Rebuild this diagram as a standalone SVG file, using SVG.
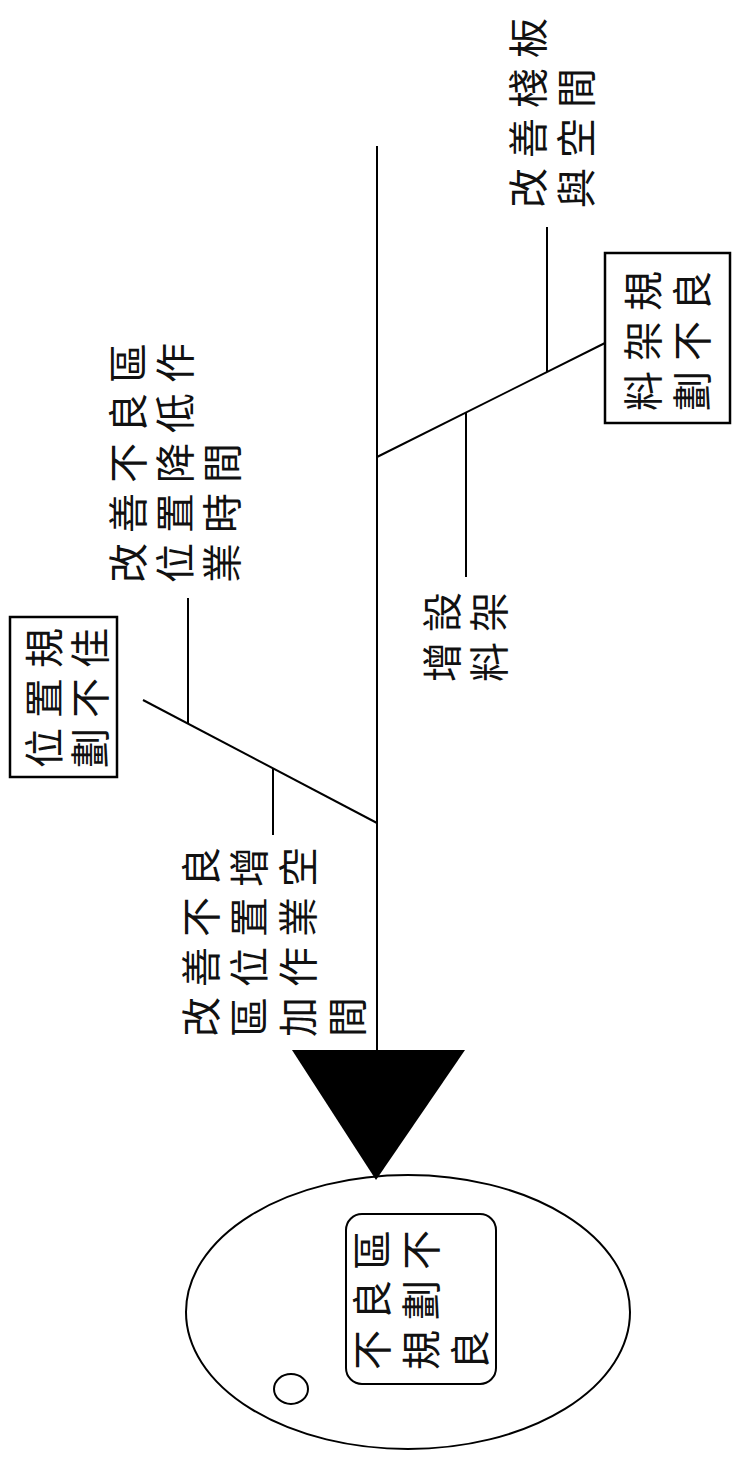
<svg xmlns="http://www.w3.org/2000/svg" width="744" height="1465" viewBox="0 0 744 1465">
<style>
.ln{stroke:#000;stroke-width:2;fill:none}
.bx{stroke:#000;stroke-width:2.5;fill:#fff}
.t{font-family:"Noto Sans CJK TC","Noto Sans CJK SC",sans-serif;font-size:40px;letter-spacing:10px;fill:#111;dominant-baseline:central}
</style>
<rect width="744" height="1465" fill="#fff"/>
<g id="connectors">
<line class="ln" x1="377" y1="146" x2="377" y2="1052"/>
<line class="ln" x1="377" y1="457" x2="605" y2="343"/>
<line class="ln" x1="547" y1="227" x2="547" y2="372"/>
<line class="ln" x1="466" y1="413" x2="466" y2="577"/>
<line class="ln" x1="377" y1="823" x2="143" y2="700"/>
<line class="ln" x1="188" y1="598" x2="188" y2="724"/>
<line class="ln" x1="273" y1="768" x2="273" y2="835"/>
</g>
<g id="head">
<ellipse class="ln" cx="408" cy="1312" rx="222" ry="137"/>
<ellipse class="ln" cx="291" cy="1389" rx="17" ry="15"/>
<polygon points="292,1050 465,1050 376,1180" fill="#000"/>
<rect class="ln" x="346" y="1214" width="150" height="170" rx="16"/>
<g transform="translate(370,1370) rotate(-90)">
<text class="t" y="0">不良區</text>
<text class="t" y="49">規劃不</text>
<text class="t" y="98">良</text>
</g>
</g>
<g id="node-board">
<g transform="translate(526,208) rotate(-90)">
<text class="t" y="0">改善棧板</text>
<text class="t" y="48">與空間</text>
</g>
</g>
<g id="node-rack">
<rect class="bx" x="605" y="253" width="125" height="170"/>
<g transform="translate(641,411) rotate(-90)">
<text class="t" y="0">料架規</text>
<text class="t" y="49">劃不良</text>
</g>
</g>
<g id="node-area">
<g transform="translate(126,583) rotate(-90)">
<text class="t" y="0">改善不良區</text>
<text class="t" y="47">位置降低作</text>
<text class="t" y="94">業時間</text>
</g>
</g>
<g id="node-position">
<rect class="bx" x="10" y="617" width="107" height="160"/>
<g transform="translate(42,768) rotate(-90)">
<text class="t" y="0">位置規</text>
<text class="t" y="46">劃不佳</text>
</g>
</g>
<g id="node-addrack">
<g transform="translate(440,682) rotate(-90)">
<text class="t" y="0">增設</text>
<text class="t" y="47">料架</text>
</g>
</g>
<g id="node-space">
<g transform="translate(199,1037) rotate(-90)">
<text class="t" y="0">改善不良</text>
<text class="t" y="48">區位置增</text>
<text class="t" y="97">加作業空</text>
<text class="t" y="146">間</text>
</g>
</g>
</svg>
